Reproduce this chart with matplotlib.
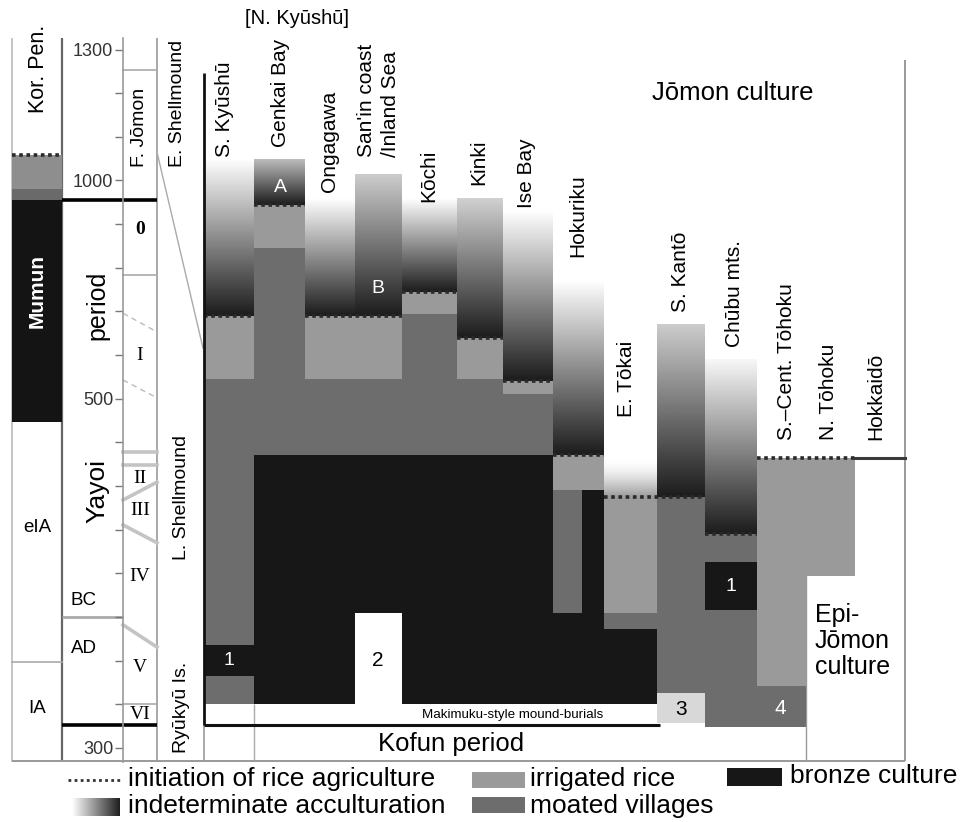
"""
Chronology of rice agriculture spread in Japan (Jomon -> Yayoi -> Kofun),
redrawn as a banded column chart. Columns are regions, y axis is calendar years
(BC negative), bands are cultural stages.
"""
import numpy as np
import matplotlib.pyplot as plt
from matplotlib.patches import Rectangle
from matplotlib.ticker import FixedLocator, FuncFormatter

plt.rcParams['font.family'] = ['Liberation Sans', 'DejaVu Sans']

W, H = 964, 822
PX_PER_YEAR = 0.4365
YEAR0_PX = 617
Y_TOP = -YEAR0_PX / PX_PER_YEAR
Y_BOT = (H - YEAR0_PX) / PX_PER_YEAR

# colours
C_IRR = '#9a9a9a'
C_MOAT = '#6d6d6d'
C_BRONZE = '#171717'
C_LIGHT = '#d8d8d8'

# ---- data -----------------------------------------------------------------
col_x = [204, 254, 305, 355, 402, 457, 503, 553, 604, 657, 705, 757, 806, 855, 905]
regions = ["S. Kyūshū", "Genkai Bay", "Ongagawa", "San'in coast", "/Inland Sea",
           "Kōchi", "Kinki", "Ise Bay", "Hokuriku", "E. Tōkai", "S. Kantō",
           "Chūbu mts.", "S.–Cent. Tōhoku", "N. Tōhoku", "Hokkaidō"]
region_x = [225, 280, 330, 366, 390, 429, 479, 526, 578, 626, 681, 735, 786, 829, 876]
region_bottom = [157, 147, 192, 157, 157, 202, 185, 208, 257, 417, 312, 347, 440, 440, 440]

# indeterminate acculturation gradients: column, from year, to year, top grey level
accult_col = [0, 1, 2, 3, 4, 5, 6, 7, 9, 10]
accult_from = [-1050, -1050, -960, -1015, -960, -960, -930, -770, -670, -590]
accult_to = [-690, -945, -690, -690, -745, -640, -540, -370, -275, -190]
accult_top = [1.0, 0.74, 1.0, 0.80, 1.0, 0.82, 1.0, 1.0, 0.80, 0.97]

# initiation of rice agriculture: (col from, col to, year)
rice_init = [(0, 1, -690), (1, 2, -945), (2, 4, -690), (4, 5, -745), (5, 6, -640),
             (6, 7, -540), (7, 8, -370), (8, 10, -275), (10, 11, -190), (11, 13, -365)]

# bands: (col from, col to, year from, year to)
irrigated = [(0, 1, -690, -545), (1, 2, -945, -845), (2, 4, -690, -545),
             (4, 5, -745, -695), (5, 6, -640, -545), (6, 7, -540, -510),
             (7, 8, -370, -290), (8, 9, -275, -10), (11, 12, -365, 158),
             (12, 13, -365, -95)]
moated = [(0, 1, -545, 65), (0, 1, 135, 200), (1, 2, -845, -370), (2, 4, -545, -370),
          (4, 5, -695, -370), (5, 6, -545, -370), (6, 7, -510, -370),
          (7, 7.57, -290, -10), (8, 9, -10, 27), (9, 10, -275, 175),
          (10, 11, -190, -125), (10, 11, -15, 252), (11, 12, 158, 252)]
bronze = [(0, 1, 65, 135), (1, 3, -370, 200), (3, 4, -370, -10), (4, 7, -370, 200),
          (7, 7.57, -10, 200), (7.57, 8, -290, 200), (8, 9, 27, 200),
          (10, 11, -125, -15)]
mound_burial = [(9, 10, 175, 243)]

# Korean peninsula column
kor_years = [-1058, -980, -955, -447, 103, 332]
kor_colors = ['#8e8e8e', '#6a6a6a', '#141414']

# Yayoi phases
phase_names = ["0", "I", "II", "III", "IV", "V", "VI"]
phase_years = [-887, -600, -318, -245, -92, 116, 224]
# phase boundaries: year at left edge, year at right edge, style
phase_bounds = [(-1253, -1253, 'thin'), (-784, -784, 'thin'), (-696, -653, 'dash'),
                (-543, -502, 'dash'), (-378, -378, 'thick'), (-348, -348, 'thick'),
                (-268, -309, 'thick'), (-211, -170, 'thick'), (18, 69, 'thick'),
                (200, 200, 'thin')]

year_major = [-1300, -1000, -500, 300]
year_minor = list(range(-1300, 301, 100))


def cx(c):
    return np.interp(c, np.arange(len(col_x)), col_x)


def gradient(ax, x0, x1, t0, t1, top, bottom, power=1.0, horizontal=False):
    s = np.linspace(0, 1, 256) ** power
    g = top + (bottom - top) * s
    img = g[None, :] if horizontal else g[:, None]
    ax.imshow(img, cmap='gray', vmin=0, vmax=1, extent=(x0, x1, t1, t0),
              origin='upper', aspect='auto', interpolation='bilinear', zorder=2)


fig = plt.figure(figsize=(W / 100, H / 100), dpi=100)
ax = fig.add_axes([0, 0, 1, 1])
ax.axis('off')

# gradients
for c, t0, t1, top in zip(accult_col, accult_from, accult_to, accult_top):
    gradient(ax, cx(c), cx(c + 1), t0, t1, top, 0.11)
# E. Tokai: white fading into irrigated rice
gradient(ax, cx(8), cx(9), -362, -275, 1.0, 0.6, power=1.6)

for spans, col in [(irrigated, C_IRR), (moated, C_MOAT), (bronze, C_BRONZE),
                   (mound_burial, C_LIGHT)]:
    for c0, c1, t0, t1 in spans:
        ax.add_patch(Rectangle((cx(c0), t0), cx(c1) - cx(c0), t1 - t0,
                               facecolor=col, edgecolor='none', zorder=3))

for c0, c1, t in rice_init:
    ax.plot([cx(c0), cx(c1)], [t, t], color='#2a2a2a', lw=2.6,
            ls=(0, (1, 1)), zorder=5)
ax.plot([cx(13), cx(14)], [-365, -365], color='#3a3a3a', lw=2.2, zorder=5)

# Korean peninsula
for t0, t1, col in zip(kor_years[:-3], kor_years[1:-2], kor_colors):
    ax.add_patch(Rectangle((12, t0), 50, t1 - t0, facecolor=col,
                           edgecolor='none', zorder=3))
ax.plot([12, 62], [kor_years[0], kor_years[0]], color='#2a2a2a', lw=2.6,
        ls=(0, (1, 1)), zorder=5)
ax.plot([12, 62], [kor_years[4], kor_years[4]], color='#aaaaaa', lw=1.2, zorder=4)

# frame lines
ax.vlines(12, -1326, 332, color='#bbbbbb', lw=1.2)
ax.vlines(62, -1326, 332, color='#666666', lw=1.6)
ax.vlines(157, -1326, 332, color='#999999', lw=1.2)
ax.vlines(204, -1246, 247, color='#111111', lw=2, zorder=6)
ax.vlines(204, 247, 330, color='#999999', lw=1.2)
ax.vlines(254, 200, 330, color='#aaaaaa', lw=1)
ax.vlines(806, -96, 330, color='#999999', lw=1)
ax.vlines(905, -1276, 330, color='#999999', lw=1.4)
ax.hlines(330, 12, 905, color='#999999', lw=1.4)
ax.hlines(247, 204, 660, color='#111111', lw=2.2, zorder=6)
ax.hlines([-955, 247], 62, 157, color='#000000', lw=2.6, zorder=6)
ax.hlines(0, 62, 123, color='#aaaaaa', lw=2)
ax.plot([157, 203], [-1065, -616], color='#aaaaaa', lw=1)

for tl, tr, style in phase_bounds:
    if style == 'thin':
        ax.plot([123, 157], [tl, tr], color='#aaaaaa', lw=1.2)
    elif style == 'dash':
        ax.plot([123, 157], [tl, tr], color='#bbbbbb', lw=1, ls=(0, (4, 3)))
    else:
        ax.plot([123, 157], [tl, tr], color='#c4c4c4', lw=2.6)

ax.set_xlim(0, W)
ax.set_ylim(Y_BOT, Y_TOP)

# year scale (left spine of phase column)
tax = fig.add_axes([123 / W, 0, 34 / W, 1])
tax.set_ylim(Y_BOT, Y_TOP)
tax.patch.set_alpha(0)
for s in ['top', 'right', 'bottom']:
    tax.spines[s].set_visible(False)
tax.spines['left'].set_bounds(-1326, 332)
tax.spines['left'].set_color('#999999')
tax.spines['left'].set_linewidth(1.2)
tax.set_xticks([])
tax.yaxis.set_major_locator(FixedLocator(year_major))
tax.yaxis.set_minor_locator(FixedLocator(year_minor))
tax.yaxis.set_major_formatter(FuncFormatter(lambda v, p: f'{abs(int(v))}'))
tax.tick_params(axis='y', which='both', direction='out', length=6, width=1,
                color='#777777', pad=1, labelsize=13, labelcolor='#333333')

# ---- texts (pixel overlay) -------------------------------------------------
ov = fig.add_axes([0, 0, 1, 1])
ov.set_xlim(0, W)
ov.set_ylim(H, 0)
ov.axis('off')
ov.patch.set_alpha(0)


def vtext(x, bottom, s, size=15, **kw):
    ov.text(x, bottom, s, rotation=90, rotation_mode='anchor', ha='left',
            va='center', fontsize=size, **kw)


for name, x, b in zip(regions, region_x, region_bottom):
    vtext(x, b, name)

ov.text(297, 18, '[N. Kyūshū]', ha='center', va='center', fontsize=14.5)
ov.text(733, 93, 'Jōmon culture', ha='center', va='center', fontsize=18.5)
ov.text(815, 641, 'Epi-\nJōmon\nculture', ha='left', va='center', fontsize=18,
        linespacing=1.08)
ov.text(451, 744, 'Kofun period', ha='center', va='center', fontsize=18.5)
ov.text(513, 715, 'Makimuku-style mound-burials', ha='center', va='center',
        fontsize=9.6)

for s, x, y, c, fs in [('A', 280, 188, 'white', 14), ('B', 378, 288, 'white', 14),
                       ('1', 229, 660, 'white', 14), ('2', 378, 660, 'black', 15),
                       ('3', 681, 709, 'black', 15), ('1', 731, 586, 'white', 14),
                       ('4', 780, 708, 'white', 15)]:
    ov.text(x, y, s, ha='center', va='center', fontsize=fs, color=c)

# left-hand columns
vtext(38, 113, 'Kor. Pen.', size=15.5)
vtext(37, 328, 'Mumun', size=15, color='white', fontweight='bold')
ov.text(37, 527, 'eIA', ha='center', va='center', fontsize=13.5)
ov.text(37, 708, 'IA', ha='center', va='center', fontsize=13.5)
vtext(97, 340, 'period', size=18)
vtext(97, 523, 'Yayoi', size=19)
ov.text(84, 600, 'BC', ha='center', va='center', fontsize=13.5)
ov.text(84, 648, 'AD', ha='center', va='center', fontsize=13.5)
vtext(139, 167, 'F. Jōmon', size=14)
vtext(178, 167, 'E. Shellmound', size=14)
vtext(181, 560, 'L. Shellmound', size=14)
vtext(181, 753, 'Ryūkyū Is.', size=14)
for s, t in zip(phase_names, phase_years):
    ov.text(140, YEAR0_PX + t * PX_PER_YEAR, s, ha='center', va='center',
            fontsize=14, family='Liberation Serif',
            fontweight='bold' if s == '0' else 'normal')

# legend
ov.plot([68, 120], [780, 780], color='#333333', lw=2, ls=(0, (1, 1.2)))
ov.text(128, 779, 'initiation of rice agriculture', va='center', fontsize=19)
gradient(ov, 72, 120, 798, 816, 1.0, 0.12, horizontal=True)
ov.text(128, 806, 'indeterminate acculturation', va='center', fontsize=19)
ov.add_patch(Rectangle((472, 772), 53, 16, facecolor=C_IRR, edgecolor='none'))
ov.text(530, 779, 'irrigated rice', va='center', fontsize=19)
ov.add_patch(Rectangle((472, 797), 53, 16, facecolor=C_MOAT, edgecolor='none'))
ov.text(530, 806, 'moated villages', va='center', fontsize=19)
ov.add_patch(Rectangle((727, 768), 55, 18, facecolor=C_BRONZE, edgecolor='none'))
ov.text(790, 776, 'bronze culture', va='center', fontsize=19)
ov.set_xlim(0, W)
ov.set_ylim(H, 0)

fig.savefig('out.png', dpi=100)
